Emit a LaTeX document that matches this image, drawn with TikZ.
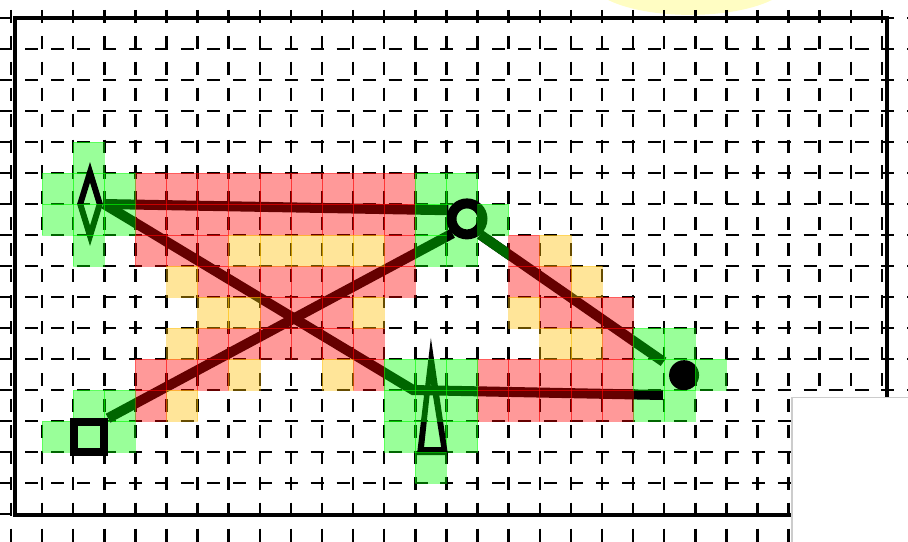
\documentclass[tikz,border=0pt]{standalone}
\usetikzlibrary{shapes.geometric}
\pgfdeclarelayer{grid}
\pgfdeclarelayer{low}
\pgfdeclarelayer{high}
\pgfdeclarelayer{top}
\pgfsetlayers{grid,low,main,high,top}
\definecolor{cellred}{rgb}{1,0,0}
\definecolor{cellgold}{RGB}{255,190,0}
\definecolor{cellgreen}{rgb}{0,1,0}
\definecolor{routegreen}{RGB}{0,102,0}
\definecolor{blob}{RGB}{255,253,195}

\begin{document}
\begin{tikzpicture}[x=0.5cm, y=-0.4984cm,
    gridline/.style={line width=0.04cm, dash pattern=on 0.21cm off 0.207cm},
    frame/.style={line width=0.064cm},
    cell/.style={fill opacity=0.4, draw opacity=0.4, line width=0.3pt},
    redcell/.style={cell, fill=cellred, draw=cellred},
    goldcell/.style={cell, fill=cellgold, draw=cellgold},
    greencell/.style={cell, fill=cellgreen, draw=cellgreen},
    route/.style={line width=0.161cm, black},
    dmark/.style={diamond, draw, line width=0.0965cm, inner sep=0pt,
      minimum width=0.354cm, minimum height=1.061cm},
    omark/.style={circle, draw, line width=0.161cm, inner sep=0pt, minimum size=0.498cm},
    fmark/.style={circle, fill, inner sep=0pt, minimum size=0.482cm},
    smark/.style={rectangle, draw, line width=0.129cm, inner sep=0pt, minimum size=0.482cm},
]
\useasboundingbox (-0.354,-0.581) rectangle (28.84,16.87);

% background grid and frame
\begin{pgfonlayer}{grid}
  \fill[blob] (21.83,-1.23) ellipse [x radius=1.607cm, y radius=0.563cm];
  \foreach \r in {0,...,16}
    \draw[gridline] (-0.373,\r) -- (29.2,\r);
  \foreach \c in {0,...,28}
    \draw[gridline] (\c,-1.1) -- (\c,17.2);
  \draw[frame] (0.13,0) rectangle (28.17,16.03);
\end{pgfonlayer}

% markers
\node[dmark] (start) at (2.54,6) {};
\node[omark] (ring) at (14.66,6.48) {};
\node[fmark] (dot) at (21.64,11.52) {};
\coordinate (tri) at (13.5,12.4);
\fill[even odd rule]
  ([shift={(0,-2.08)}]tri) -- ([shift={(0.55,1.7)}]tri) -- ([shift={(-0.45,1.7)}]tri) -- cycle
  ([shift={(0,-0.63)}]tri) -- ([shift={(0.33,1.44)}]tri) -- ([shift={(-0.22,1.44)}]tri) -- cycle;
\begin{pgfonlayer}{top}
  \node[smark] (box) at (2.51,13.52) {};
\end{pgfonlayer}

% routes
\coordinate (joint) at (12.93,12.0);
\coordinate (dotlow) at (20.96,12.16);
\draw[route] (start.east) -- (ring.155);
\draw[route] (start.east) -- (joint) -- (dotlow);
\draw[route] (box.north east) -- (ring.225);
\draw[route, shorten >=0.145cm] (ring.-50) -- (dot.148);

% cells under the marks
\begin{pgfonlayer}{low}
  \foreach \c/\r in {2/4,2/5,14/5,14/6,14/7,1/13,2/13,3/13,12/13,13/13,14/13,21/11,20/12}
    \path[greencell] (\c,\r) rectangle ++(1,1);
\end{pgfonlayer}

% cells over the marks
\begin{pgfonlayer}{high}
  \foreach \r/\a/\b in {5/4/12,6/4/12,7/4/6,7/12/12,7/16/16,8/6/12,8/16/17,9/8/10,9/17/19,
      10/6/11,10/19/19,11/4/6,11/11/11,11/15/19,12/4/4,12/15/19}
    \foreach \c in {\a,...,\b}
      \path[redcell] (\c,\r) rectangle ++(1,1);
  \foreach \r/\a/\b in {7/7/11,7/17/17,8/5/5,8/18/18,9/6/7,9/11/11,9/16/16,10/5/5,
      10/17/18,11/7/7,11/10/10,12/5/5}
    \foreach \c in {\a,...,\b}
      \path[goldcell] (\c,\r) rectangle ++(1,1);
  \foreach \c/\r in {1/5,3/5,1/6,2/6,3/6,2/7,13/5,13/6,13/7,15/6,2/12,3/12,
      12/11,13/11,14/11,12/12,13/12,14/12,13/14,20/10,21/10,20/11,22/11,21/12}
    \path[greencell] (\c,\r) rectangle ++(1,1);
  % green stretch of the route just below the ring
  \begin{scope}
    \clip (15,7) rectangle ++(1,1);
    \draw[route, routegreen, shorten >=0.145cm] (ring.-50) -- (dot.148);
  \end{scope}
\end{pgfonlayer}

% panel in the corner
\begin{pgfonlayer}{top}
  \filldraw[fill=white, draw=gray!40, line width=0.6pt] (25.11,12.23) rectangle (29.5,17.5);
\end{pgfonlayer}
\end{tikzpicture}
\end{document}
